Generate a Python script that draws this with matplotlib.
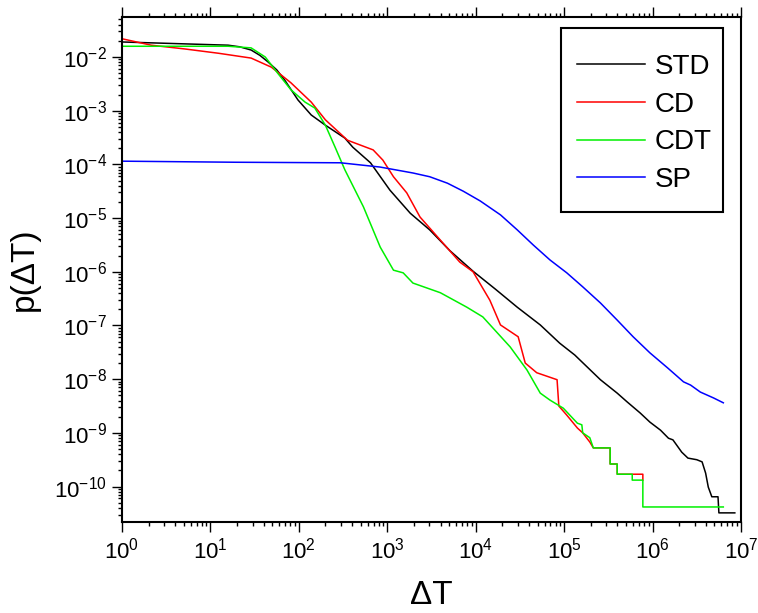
import matplotlib
matplotlib.use("Agg")
import matplotlib.pyplot as plt
from matplotlib.patches import Rectangle
import numpy as np

plt.rcParams["font.family"] = ["Liberation Sans", "DejaVu Sans"]
plt.rcParams["mathtext.fontset"] = "custom"
plt.rcParams["mathtext.rm"] = "Liberation Sans"
plt.rcParams["mathtext.it"] = "Liberation Sans:italic"
plt.rcParams["mathtext.bf"] = "Liberation Sans:bold"

# log10(dT), log10(p) for each distribution
std_logx = [0.00, 1.20, 1.33, 1.46, 1.56, 1.65, 1.75, 1.84, 1.99, 2.14, 2.30, 2.52, 2.61, 2.81,
            3.03, 3.26, 3.48, 3.71, 3.97, 4.22, 4.47, 4.73, 4.95, 5.12, 5.41, 5.60,
            5.71, 5.86, 5.97, 6.09, 6.18, 6.23, 6.33, 6.40, 6.50, 6.56, 6.60, 6.63,
            6.67, 6.74, 6.75, 6.93]
std_logp = [-1.72, -1.78, -1.81, -1.87, -1.97, -2.09, -2.24, -2.43, -2.80, -3.08, -3.27, -3.51, -3.68, -3.97,
            -4.48, -4.91, -5.22, -5.61, -5.99, -6.32, -6.66, -6.99, -7.33, -7.55, -8.01, -8.26,
            -8.42, -8.63, -8.80, -8.95, -9.10, -9.13, -9.36, -9.47, -9.50, -9.54, -9.75, -10.01,
            -10.19, -10.19, -10.49, -10.49]

cd_logx = [0.00, 0.33, 0.71, 1.09, 1.46, 1.69, 1.91, 2.14, 2.30, 2.55, 2.84, 2.95,
           3.07, 3.22, 3.37, 3.60, 3.82, 3.97, 4.16, 4.28, 4.48, 4.56, 4.69, 4.92,
           4.94, 5.03, 5.15, 5.21, 5.29, 5.33, 5.52, 5.52, 5.60, 5.60, 5.89, 5.89]
cd_logp = [-1.66, -1.78, -1.85, -1.93, -2.02, -2.19, -2.48, -2.84, -3.17, -3.55, -3.73, -3.92,
           -4.23, -4.53, -4.98, -5.41, -5.82, -6.00, -6.53, -6.99, -7.21, -7.70, -7.88, -8.01,
           -8.50, -8.67, -8.91, -9.00, -9.17, -9.28, -9.28, -9.58, -9.58, -9.77, -9.77, -9.88]

cdt_logx = [0.00, 1.20, 1.46, 1.62, 1.76, 1.91, 2.07, 2.18, 2.30, 2.41, 2.52, 2.73,
            2.92, 3.07, 3.18, 3.29, 3.60, 3.90, 4.08, 4.39, 4.58, 4.73, 4.84, 4.99,
            5.15, 5.20, 5.21, 5.29, 5.33, 5.52, 5.52, 5.60, 5.60, 5.77, 5.77, 5.89,
            5.89, 6.80]
cdt_logp = [-1.80, -1.80, -1.83, -2.00, -2.30, -2.61, -2.84, -2.95, -3.27, -3.68, -4.10, -4.79,
            -5.54, -5.97, -6.02, -6.21, -6.39, -6.66, -6.84, -7.40, -7.83, -8.26, -8.39, -8.54,
            -8.82, -8.85, -9.00, -9.09, -9.28, -9.28, -9.58, -9.58, -9.77, -9.77, -9.88, -9.88,
            -10.38, -10.38]

sp_logx = [0.00, 1.28, 2.47, 2.92, 3.29, 3.48, 3.68, 3.86, 4.05, 4.28, 4.47, 4.65, 4.84,
           5.03, 5.21, 5.41, 5.60, 5.78, 5.97, 6.17, 6.35, 6.43, 6.54, 6.69, 6.80]
sp_logp = [-3.94, -3.96, -3.97, -4.05, -4.16, -4.23, -4.35, -4.50, -4.68, -4.94, -5.22, -5.50, -5.78,
           -6.02, -6.28, -6.58, -6.90, -7.21, -7.51, -7.79, -8.05, -8.11, -8.24, -8.35, -8.44]

series = [
    ("STD", std_logx, std_logp, "black"),
    ("CD", cd_logx, cd_logp, "#ff0000"),
    ("CDT", cdt_logx, cdt_logp, "#00f000"),
    ("SP", sp_logx, sp_logp, "#0000ff"),
]

W, H = 758, 613
fig = plt.figure(figsize=(W / 100, H / 100), dpi=100)
ax = fig.add_axes([122 / W, 1 - 522 / H, 619 / W, 505 / H])

for name, lx, lp, color in series:
    ax.plot(10 ** np.array(lx), 10 ** np.array(lp), color=color, lw=1.1, label=name)

ax.set_xscale("log")
ax.set_yscale("log")
ax.set_xlim(1, 1e7)
ax.set_ylim(10 ** -10.66, 10 ** -1.255)

ax.xaxis.set_major_locator(matplotlib.ticker.LogLocator(base=10, numticks=20))
ax.xaxis.set_minor_locator(matplotlib.ticker.LogLocator(base=10, subs=np.arange(2, 10), numticks=20))
ax.yaxis.set_major_locator(matplotlib.ticker.LogLocator(base=10, numticks=20))
ax.yaxis.set_minor_locator(matplotlib.ticker.LogLocator(base=10, subs=np.arange(2, 10), numticks=20))

for s in ax.spines.values():
    s.set_linewidth(1.5)
ax.tick_params(which="both", direction="out", top=True, right=False, width=1.0, labelsize=16)
ax.tick_params(which="major", length=7, pad=4)
ax.tick_params(which="minor", length=3)

ax.set_xlabel("ΔT", fontsize=24, labelpad=12)
ax.set_ylabel("p(ΔT)", fontsize=24, labelpad=10)

# legend entries without frame, box drawn separately
leg = ax.legend(loc="upper left", bbox_to_anchor=(577 / W, 1 - 54 / H),
                bbox_transform=fig.transFigure, fontsize=20, frameon=False,
                borderpad=0, handlelength=2.45, handletextpad=0.35,
                labelspacing=0.42, borderaxespad=0)
fig.patches.append(Rectangle((561 / W, 1 - 212 / H), 162 / W, 184 / H,
                             transform=fig.transFigure, fill=False,
                             edgecolor="black", linewidth=1.5, zorder=5))

fig.savefig("out.png", dpi=100)
